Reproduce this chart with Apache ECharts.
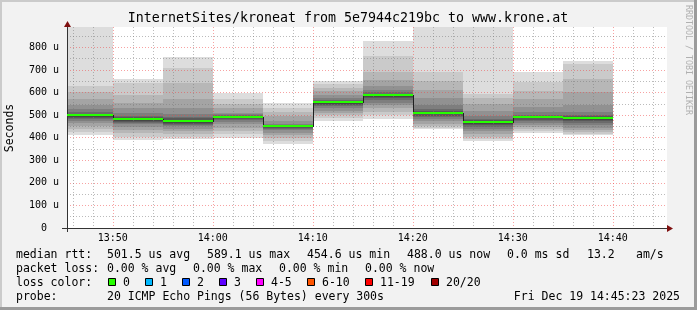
<!DOCTYPE html>
<html><head><meta charset="utf-8">
<script src="https://cdn.jsdelivr.net/npm/echarts@6/dist/echarts.min.js"></script>
<style>html,body{margin:0;padding:0;background:#f2f2f2}#c{width:697px;height:310px}</style>
</head><body><div id="c"></div>
<script>
// ---------------- data ----------------
const titleText = 'InternetSites/kroneat from 5e7944c219bc to www.krone.at';
const yAxisName = 'Seconds';
const windowStart = '13:45:25';
const windowEnd = '14:45:25';
const stepMinutes = 5;
const times = ['13:45','13:50','13:55','14:00','14:05','14:10','14:15','14:20','14:25','14:30','14:35'];
const medians = [500, 482, 473, 492, 452, 557, 587, 510, 469, 492, 488];
// 20 sorted ping RTTs (microseconds) per step
const pings1345 = [410,425,438,450,465,475,482,488,493,497,501,503,506,512,525,545,570,600,630,900];
const pings1350 = [390,405,420,435,448,459,465,470,475,479,484,486,490,498,510,530,555,590,640,658];
const pings1355 = [395,405,415,428,440,450,456,461,466,470,476,480,485,492,505,530,570,640,710,755];
const pings1400 = [400,415,430,445,459,470,478,483,487,490,494,495,497,499,503,511,530,551,570,598];
const pings1405 = [374,386,398,410,422,432,438,443,447,450,454,455,456,458,462,475,496,515,533,552];
const pings1410 = [474,489,500,510,519,530,540,546,551,555,559,560,562,566,575,590,607,620,637,650];
const pings1415 = [482,500,515,530,545,555,566,574,580,584,589,591,594,600,612,630,655,690,760,828];
const pings1420 = [437,444,452,462,474,484,492,498,503,507,512,515,520,528,545,575,610,650,692,900];
const pings1425 = [385,395,405,418,430,440,448,456,462,466,471,473,476,482,495,520,550,575,595,900];
const pings1430 = [420,430,440,448,458,466,474,480,485,489,494,495,497,502,512,535,570,605,645,689];
const pings1435 = [410,417,425,435,444,455,465,473,480,485,490,491,494,500,515,545,600,660,726,741];
const smokePings = [pings1345,pings1350,pings1355,pings1400,pings1405,pings1410,pings1415,pings1420,pings1425,pings1430,pings1435];
const yMax = 890;

const row1Texts = ['median rtt:', '501.5 us avg', '589.1 us max', '454.6 us min', '488.0 us now', '0.0 ms sd', '13.2', 'am/s'];
const row2Texts = ['packet loss:', '0.00 % avg', '0.00 % max', '0.00 % min', '0.00 % now'];
const row3Label = 'loss color:';
const lossLabels = ['0', '1', '2', '3', '4-5', '6-10', '11-19', '20/20'];
const lossColors = ['#26ff00', '#00b8ff', '#0059ff', '#5e00ff', '#ff00ff', '#ff5500', '#ff0000', '#a10000'];
const row4Texts = ['probe:', '20 ICMP Echo Pings (56 Bytes) every 300s'];
const dateText = 'Fri Dec 19 14:45:23 2025';
const watermark = 'RRDTOOL / TOBI OETIKER';

// ---------------- layout / style ----------------
const FONT = '"DejaVu Sans Mono", monospace';
const grays = ['#dddddd','#cacaca','#b7b7b7','#a4a4a4','#919191','#7e7e7e','#6b6b6b','#585858','#454545','#323232'];
const row1X = [16, 107, 207, 307, 407, 507, 587, 636];
const row2X = [16, 107, 193, 279, 365];
const boxX = [108, 145, 182, 219, 256, 307, 365, 431];
const rowY = [255, 269, 283, 297];

function toMin(s) { const p = s.split(':').map(Number); return p[0] * 60 + p[1] + (p[2] || 0) / 60; }
function pad2(n) { return (n < 10 ? '0' : '') + n; }

const smokeData = times.map((t, i) => [toMin(t), toMin(t) + stepMinutes].concat(smokePings[i]));
const medianData = times.map((t, i) => [toMin(t), toMin(t) + stepMinutes, medians[i], i > 0 ? medians[i - 1] : medians[i]]);

function renderSmoke(params, api) {
  const cs = params.coordSys;
  const clip = { x: cs.x, y: cs.y, width: cs.width, height: cs.height };
  const t0 = api.value(0), t1 = api.value(1);
  const children = [];
  for (let k = 0; k < 10; k++) {
    const lo = api.value(2 + k), hi = api.value(21 - k);
    const a = api.coord([t0, hi]), b = api.coord([t1, lo]);
    const x0 = Math.round(a[0]), x1 = Math.round(b[0]), y0 = Math.round(a[1]), y1 = Math.round(b[1]);
    const shape = echarts.graphic.clipRectByRect({ x: x0, y: y0, width: x1 - x0, height: y1 - y0 }, clip);
    if (shape) children.push({ type: 'rect', shape: shape, style: { fill: grays[k] } });
  }
  return { type: 'group', children: children };
}

function renderMedian(params, api) {
  const cs = params.coordSys;
  const t0 = api.value(0), t1 = api.value(1), m = api.value(2), pm = api.value(3);
  const a = api.coord([t0, m]), b = api.coord([t1, m]);
  const x0 = Math.max(Math.round(a[0]), Math.round(cs.x)), x1 = Math.round(b[0]);
  const y = Math.round(a[1]);
  const children = [];
  children.push({ type: 'rect', shape: { x: x0, y: y, width: x1 - x0, height: 1 }, style: { fill: '#202020' } });
  if (params.dataIndex > 0) {
    const py = Math.round(api.coord([t0, pm])[1]);
    children.push({ type: 'rect', shape: { x: x0, y: Math.min(py, y), width: 1, height: Math.abs(py - y) + 1 }, style: { fill: '#202020' } });
  }
  children.push({ type: 'rect', shape: { x: x0, y: y - 1, width: x1 - x0, height: 2 }, style: { fill: lossColors[0] } });
  return { type: 'group', children: children };
}

function txt(text, x, y, size, extra) {
  return {
    type: 'text', x: x, y: y, silent: true, z: 100,
    style: Object.assign({ text: text, font: size + 'px ' + FONT, fill: '#000', align: 'left', verticalAlign: 'middle' }, extra || {})
  };
}

const graphics = [];
graphics.push({ type: 'rect', shape: { x: 0, y: 0, width: 697, height: 2 }, style: { fill: '#cbcbcb' }, silent: true });
graphics.push({ type: 'rect', shape: { x: 0, y: 0, width: 2, height: 310 }, style: { fill: '#cbcbcb' }, silent: true });
graphics.push({ type: 'rect', shape: { x: 0, y: 307, width: 697, height: 3 }, style: { fill: '#9b9b9b' }, silent: true });
graphics.push({ type: 'rect', shape: { x: 694, y: 0, width: 3, height: 310 }, style: { fill: '#9b9b9b' }, silent: true });
graphics.push(txt(titleText, 348, 19, 13.3, { align: 'center' }));
graphics.push(Object.assign(txt(yAxisName, 10, 128, 11.5, { align: 'center' }), { rotation: Math.PI / 2 }));
graphics.push(Object.assign(txt(watermark, 688, 60, 8.3, { align: 'center', fill: '#b0b0b0' }), { rotation: -Math.PI / 2 }));
graphics.push({ type: 'line', shape: { x1: 62, y1: 228.5, x2: 67, y2: 228.5 }, style: { stroke: '#333', lineWidth: 1 }, z: 100 });
graphics.push({ type: 'line', shape: { x1: 67.5, y1: 228, x2: 67.5, y2: 232 }, style: { stroke: '#333', lineWidth: 1 }, z: 100 });
graphics.push({ type: 'polygon', shape: { points: [[64, 27], [71, 27], [67.5, 21]] }, style: { fill: '#7f1010' }, z: 100 });
graphics.push({ type: 'polygon', shape: { points: [[667, 225], [667, 232], [673, 228.5]] }, style: { fill: '#7f1010' }, z: 100 });
row1Texts.forEach((t, i) => graphics.push(txt(t, row1X[i], rowY[0], 11.5)));
row2Texts.forEach((t, i) => graphics.push(txt(t, row2X[i], rowY[1], 11.5)));
graphics.push(txt(row3Label, 16, rowY[2], 11.5));
lossLabels.forEach((t, i) => {
  graphics.push({ type: 'rect', shape: { x: boxX[i] + 0.5, y: rowY[2] - 4.5, width: 7, height: 7 }, style: { fill: lossColors[i], stroke: '#000', lineWidth: 1 }, z: 100 });
  graphics.push(txt(t, boxX[i] + 15, rowY[2], 11.5));
});
graphics.push(txt(row4Texts[0], 16, rowY[3], 11.5));
graphics.push(txt(row4Texts[1], 107, rowY[3], 11.5));
graphics.push(txt(dateText, 680, rowY[3], 11.5, { align: 'right' }));

const chart = echarts.init(document.getElementById('c'), null, { renderer: 'canvas' });
chart.setOption({
  backgroundColor: '#f2f2f2',
  animation: false,
  grid: { left: 67, top: 27, width: 600, height: 201, show: true, backgroundColor: '#ffffff', borderWidth: 0 },
  xAxis: {
    type: 'value', min: toMin(windowStart), max: toMin(windowEnd), splitNumber: 6, z: 5,
    axisLine: { show: true, onZero: false, lineStyle: { color: '#333', width: 1 } },
    axisTick: { show: false },
    axisLabel: {
      showMinLabel: false, showMaxLabel: false, margin: 5, color: '#000', fontFamily: FONT, fontSize: 10,
      formatter: v => { const r = Math.round(v); if (Math.abs(v - r) > 1e-6 || r % 10 !== 0) return ''; return pad2(Math.floor(r / 60)) + ':' + pad2(r % 60); }
    },
    splitLine: { show: true, showMinLine: false, showMaxLine: false, lineStyle: { color: 'rgba(240,70,70,0.5)', type: [1, 2], width: 1 } },
    minorTick: { show: false, splitNumber: 5 },
    minorSplitLine: { show: true, lineStyle: { color: 'rgba(120,120,120,0.5)', type: [1, 2], width: 1 } }
  },
  yAxis: {
    type: 'value', min: 0, max: yMax, interval: 100, z: 5,
    axisLine: { show: true, lineStyle: { color: '#333', width: 1 } },
    axisTick: { show: false },
    axisLabel: {
      showMaxLabel: false, margin: 8, color: '#000', fontFamily: FONT, fontSize: 10,
      formatter: v => v === 0 ? '0  ' : v + ' u'
    },
    splitLine: { show: true, showMinLine: false, showMaxLine: false, lineStyle: { color: 'rgba(240,70,70,0.5)', type: [1, 2], width: 1 } },
    minorTick: { show: false, splitNumber: 2 },
    minorSplitLine: { show: true, lineStyle: { color: 'rgba(120,120,120,0.5)', type: [1, 2], width: 1 } }
  },
  series: [
    { type: 'custom', name: 'smoke', z: 2, renderItem: renderSmoke, data: smokeData, encode: { x: [0, 1], y: 2 }, silent: true },
    { type: 'custom', name: 'median', z: 10, renderItem: renderMedian, data: medianData, encode: { x: [0, 1], y: 2 }, silent: true }
  ],
  graphic: { elements: graphics }
});
</script></body></html>
